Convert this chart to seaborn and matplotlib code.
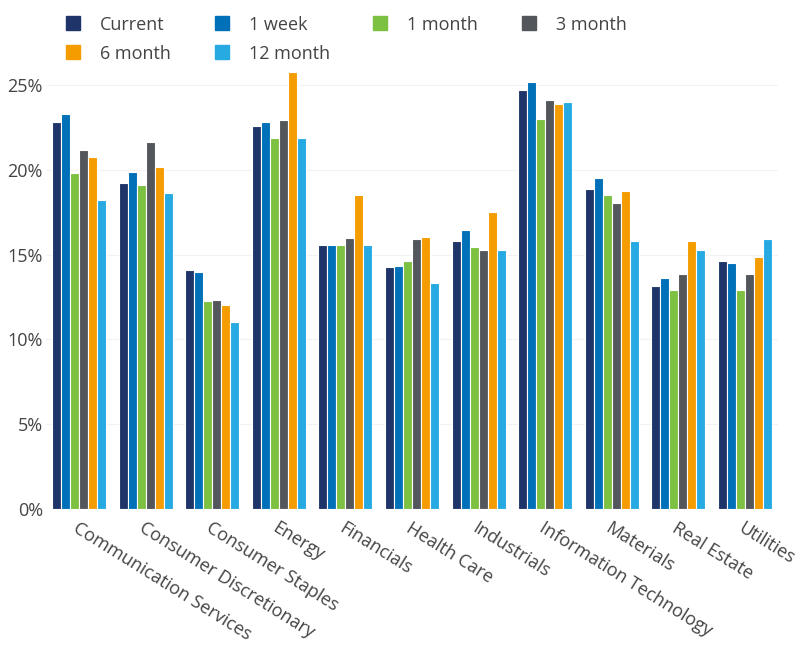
import matplotlib
matplotlib.use("Agg")
import matplotlib.pyplot as plt
from matplotlib.lines import Line2D
import seaborn as sns
import pandas as pd

# sector names and the trailing-period values (%)
sectors = ['Communication Services', 'Consumer Discretionary', 'Consumer Staples', 'Energy',
           'Financials', 'Health Care', 'Industrials', 'Information Technology',
           'Materials', 'Real Estate', 'Utilities']
periods = ['Current', '1 week', '1 month', '3 month', '6 month', '12 month']

current = [22.8, 19.25, 14.1, 22.6, 15.55, 14.3, 15.8, 24.7, 18.85, 13.15, 14.65]
week_1 = [23.3, 19.9, 13.95, 22.8, 15.6, 14.35, 16.45, 25.2, 19.5, 13.6, 14.5]
month_1 = [19.8, 19.1, 12.25, 21.9, 15.6, 14.6, 15.45, 23.0, 18.55, 12.9, 12.9]
month_3 = [21.2, 21.65, 12.35, 22.95, 16.0, 15.9, 15.3, 24.15, 18.05, 13.85, 13.85]
month_6 = [20.75, 20.15, 12.05, 25.8, 18.5, 16.05, 17.5, 23.9, 18.75, 15.8, 14.85]
month_12 = [18.2, 18.65, 11.05, 21.9, 15.55, 13.35, 15.3, 24.0, 15.8, 15.25, 15.9]

colors = ['#1f3468', '#0070b8', '#7dc142', '#53565a', '#f59c00', '#27aae1']

series = [current, week_1, month_1, month_3, month_6, month_12]
rows = []
for p, vals in zip(periods, series):
    for s, v in zip(sectors, vals):
        rows.append({'sector': s, 'period': p, 'value': v})
df = pd.DataFrame(rows)

sns.set_style('white')
plt.rcParams['font.family'] = ['Open Sans', 'DejaVu Sans']
text_color = '#444444'

fig = plt.figure(figsize=(8.1, 6.5), dpi=100)
ax = fig.add_axes([0.0564, 0.217, 0.9044, 0.678])

sns.barplot(data=df, x='sector', y='value', hue='period', order=sectors,
            hue_order=periods, palette=colors, saturation=1, width=0.81, ax=ax,
            edgecolor='white', linewidth=0.8, legend=False)

ax.set_xlim(-0.5, 10.5)
ax.set_ylim(0, 26)
ax.set_yticks([0, 5, 10, 15, 20, 25])
ax.set_yticklabels([f'{t}%' for t in [0, 5, 10, 15, 20, 25]], fontsize=13, color=text_color)
ax.yaxis.grid(True, color='#f2f2f2', linewidth=0.8)
ax.set_axisbelow(True)
ax.tick_params(axis='y', length=0, pad=2)
ax.tick_params(axis='x', length=0, pad=7)
ax.set_xlabel('')
ax.set_ylabel('')
for sp in ax.spines.values():
    sp.set_visible(False)

ax.set_xticks(range(len(sectors)))
ax.set_xticklabels(sectors, rotation=-32, ha='left', va='top', rotation_mode='anchor',
                   fontsize=13, color=text_color)

# legend: reorder so matplotlib's column-major fill gives row-major layout
order = [0, 4, 1, 5, 2, 3]
handles = [Line2D([], [], marker='s', linestyle='', markersize=10, color=colors[i]) for i in order]
labels = [periods[i] for i in order]
fig.legend(handles, labels, loc='upper left', bbox_to_anchor=(0.079, 0.976), ncol=4,
           frameon=False, fontsize=13, labelcolor=text_color, handlelength=1.0,
           handletextpad=1.0, columnspacing=2.3, borderaxespad=0, borderpad=0,
           labelspacing=0.62)

fig.savefig('out.png', dpi=100)
